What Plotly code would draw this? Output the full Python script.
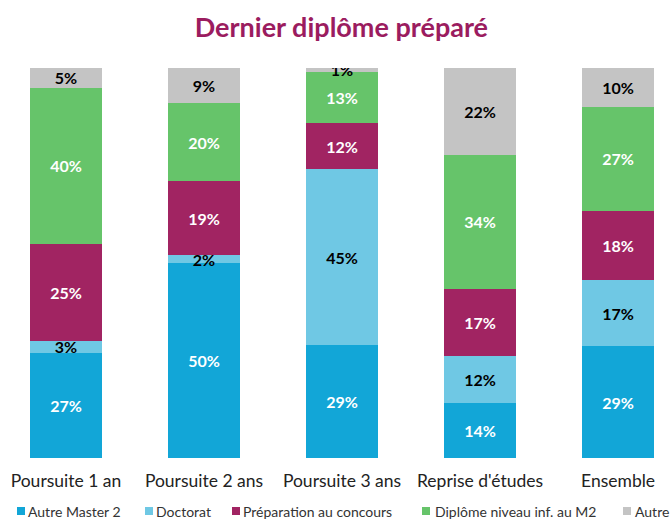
import plotly.graph_objects as go

categories = ["Poursuite 1 an", "Poursuite 2 ans", "Poursuite 3 ans", "Reprise d'études", "Ensemble"]
autre_master2 = [27, 50, 29, 14, 29]
doctorat = [3, 2, 45, 12, 17]
preparation_concours = [25, 19, 12, 17, 18]
diplome_inf_m2 = [40, 20, 13, 34, 27]
autre = [5, 9, 1, 22, 10]

series = [
    ("Autre Master 2", autre_master2, "#12a6d7", "white"),
    ("Doctorat", doctorat, "#6fc8e4", "black"),
    ("Préparation au concours", preparation_concours, "#a12462", "white"),
    ("Diplôme niveau inf. au M2", diplome_inf_m2, "#66c46a", "white"),
    ("Autre", autre, "#c4c4c4", "black"),
]
# legend square left edges and text left edges (pixels)
legend_sq = [17, 145, 232, 422, 623]
legend_tx = [27, 155, 242, 434, 634]

W, H = 672, 519
PLOT_BOTTOM, PLOT_H = 458, 390

def py(pix):
    return (PLOT_BOTTOM - pix) / PLOT_H

fig = go.Figure()
for name, vals, color, tcol in series:
    fig.add_trace(go.Bar(
        x=categories, y=vals, name=name,
        marker=dict(color=color, line=dict(width=0)),
        text=[f"{v}%" for v in vals],
        textposition="inside", insidetextanchor="middle",
        constraintext="none",
        textfont=dict(color=tcol, size=16, family="Lato", weight="bold"),
        width=0.52, showlegend=False,
    ))

ly = 511
for (name, vals, color, tcol), sx, tx in zip(series, legend_sq, legend_tx):
    fig.add_shape(type="rect", xref="paper", yref="paper",
                  x0=sx / W, x1=(sx + 8) / W,
                  y0=py(ly + 4), y1=py(ly - 4),
                  fillcolor=color, line=dict(width=0))
    fig.add_annotation(
        xref="paper", yref="paper", x=tx / W, y=py(ly), xanchor="left", yanchor="middle",
        text=name, showarrow=False, borderpad=0,
        font=dict(family="Lato", size=14, color="#333"),
    )

fig.update_layout(
    barmode="stack", barnorm="percent",
    width=W, height=H,
    margin=dict(l=0, r=0, t=68, b=61, autoexpand=False),
    paper_bgcolor="white", plot_bgcolor="white",
    title=dict(text="Dernier diplôme préparé", x=0.508, xanchor="center", y=1 - 28 / H, yanchor="middle",
               font=dict(family="Lato", size=27, color="#9b1c5f", weight="bold")),
    xaxis=dict(range=[-0.478, 4.391], showline=False, showgrid=False, ticks="", automargin=False,
               ticklabelstandoff=10,
               tickfont=dict(family="Lato", size=17.5, color="#222")),
    yaxis=dict(range=[0, 100], visible=False, automargin=False),
    showlegend=False,
)

fig.write_html("out.html", config={"displayModeBar": False},
               post_script="document.body.style.margin='0';")
